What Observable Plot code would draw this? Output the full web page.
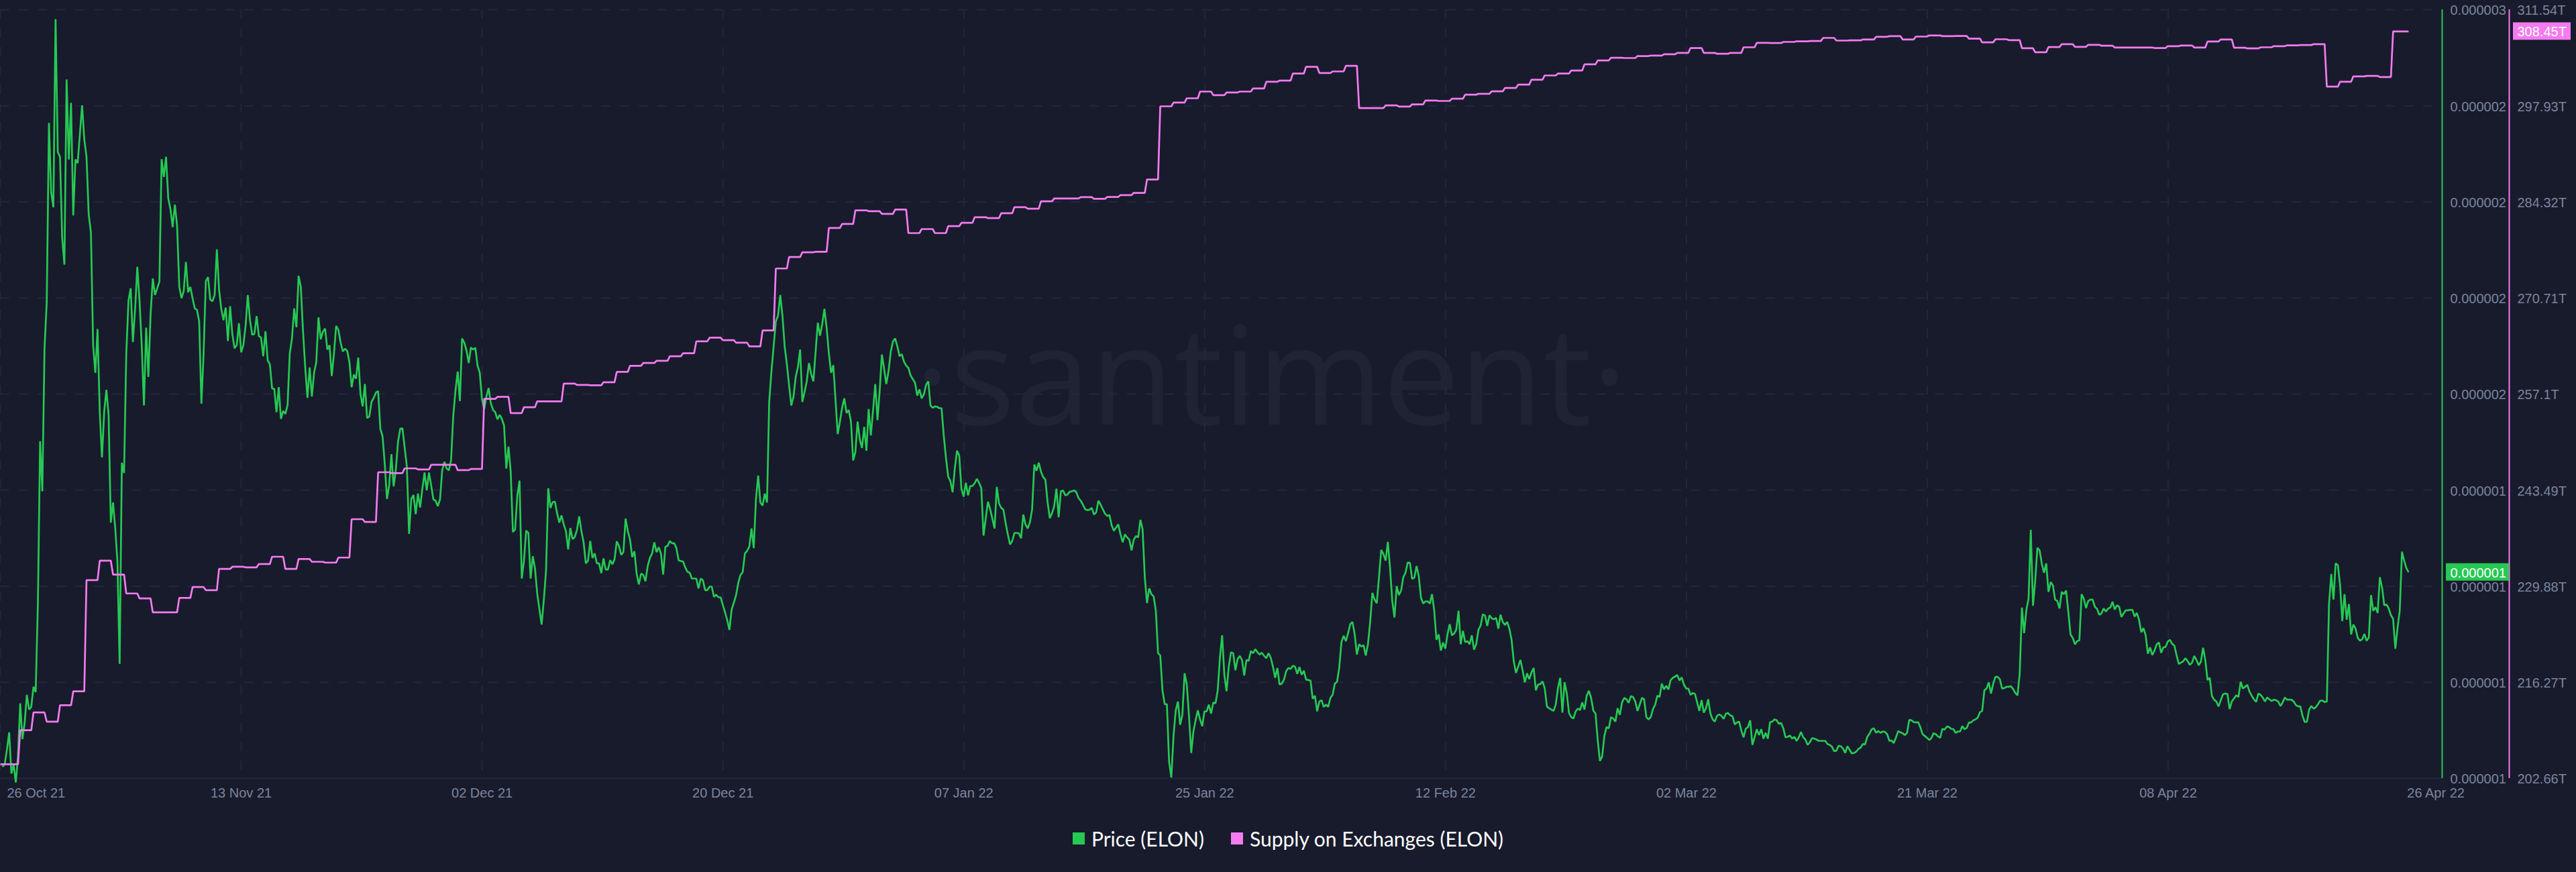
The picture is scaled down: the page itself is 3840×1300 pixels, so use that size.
<!DOCTYPE html>
<html>
<head>
<meta charset="utf-8">
<script src="https://cdn.jsdelivr.net/npm/d3@7"></script>
<script src="https://cdn.jsdelivr.net/npm/@observablehq/plot@0.6"></script>
<style>
  html, body { margin: 0; padding: 0; background: #181b2c; }
  #legend { display: flex; justify-content: center; align-items: center; gap: 40px; height: 100px;
    font-family: "Lato", sans-serif; font-size: 30px; color: #ffffff; }
  #legend span.item { display: flex; align-items: center; gap: 10px; }
  #legend i { display: block; width: 18px; height: 18px; }
</style>
</head>
<body>
<div id="chart"></div>
<div id="legend"></div>
<script>
// Price in billionths of a unit, one reading every four hours from 26 Oct 21.
const priceNano = [
826,832,865,903,811,831,791,850,968,888,
924,987,954,960,1005,993,1192,1554,1442,1762,
1865,2266,2111,2077,2498,2201,2190,2008,1949,2363,
2184,2311,2059,2184,2176,2241,2305,2229,2190,2061,
2021,1769,1707,1805,1619,1518,1619,1669,1613,1372,
1417,1360,1285,1056,1506,1483,1750,1868,1896,1776,
1850,1944,1868,1769,1634,1808,1698,1837,1918,1881,
1896,1911,2185,2145,2190,2097,2073,2033,2083,2036,
1899,1874,1890,1955,1887,1899,1874,1851,1848,1822,
1638,1750,1912,1921,1871,1867,1881,1983,1893,1850,
1825,1853,1778,1856,1794,1762,1769,1818,1753,1769,
1812,1881,1825,1792,1794,1834,1789,1786,1744,1800,
1735,1726,1672,1671,1619,1675,1604,1622,1615,1635,
1750,1784,1851,1809,1924,1899,1800,1719,1651,1719,
1654,1707,1731,1831,1782,1799,1806,1759,1769,1700,
1750,1812,1803,1775,1755,1761,1756,1731,1675,1703,
1694,1741,1660,1632,1682,1606,1609,1642,1651,1663,
1666,1582,1565,1503,1425,1456,1525,1453,1490,1553,
1582,1583,1540,1497,1347,1425,1434,1391,1437,1406,
1447,1484,1444,1484,1455,1424,1421,1409,1424,1489,
1508,1493,1489,1511,1611,1667,1710,1644,1784,1774,
1757,1729,1764,1759,1763,1723,1707,1648,1626,1654,
1673,1639,1624,1619,1603,1613,1604,1589,1493,1542,
1486,1351,1357,1433,1466,1247,1287,1354,1349,1247,
1297,1269,1213,1178,1144,1200,1266,1449,1405,1418,
1419,1393,1372,1388,1368,1353,1312,1360,1335,1340,
1356,1386,1353,1328,1281,1287,1331,1293,1303,1281,
1281,1259,1292,1267,1267,1288,1279,1290,1330,1320,
1300,1306,1381,1353,1334,1295,1308,1258,1234,1258,
1255,1241,1275,1293,1303,1328,1306,1317,1303,1256,
1318,1320,1331,1326,1326,1315,1288,1286,1285,1272,
1262,1260,1247,1247,1247,1225,1247,1243,1221,1221,
1229,1229,1206,1211,1205,1205,1188,1172,1154,1132,
1178,1193,1210,1237,1255,1261,1303,1309,1318,1359,
1315,1424,1477,1417,1410,1437,1417,1642,1710,1766,
1822,1835,1881,1835,1766,1726,1679,1634,1654,1698,
1720,1759,1642,1664,1688,1729,1704,1688,1754,1819,
1790,1816,1850,1807,1751,1707,1724,1648,1570,1598,
1629,1650,1617,1624,1598,1511,1530,1598,
1558,1539,1586,1533,1626,1567,1623,1682,1601,1667,
1748,1716,1682,1710,1754,1777,1784,1766,1744,1749,
1732,1723,1718,1701,1693,1685,1656,1670,1650,1659,
1680,1688,1634,1629,1632,1631,1628,1628,1567,1517,
1475,1465,1440,1493,1533,1522,1448,1430,1461,1433,
1454,1454,1460,1470,1461,1449,1343,1381,1419,1402,
1381,1359,1452,1415,1405,1401,1371,1346,1323,1331,
1349,1349,1348,1337,1390,1368,1359,1373,1402,1502,
1488,1506,1486,1474,1468,1418,1382,1393,1409,1448,
1384,1442,1444,1433,1435,1441,1442,1444,1440,1427,
1421,1412,1402,1400,1401,1405,1390,1395,1421,1412,
1402,1392,1387,1389,1366,1354,1361,1368,1346,1328,
1346,1339,1334,1310,1334,1342,1339,1378,1357,1250,
1192,1225,1212,1207,1175,1080,1075,997,966,966,
837,802,895,952,972,920,942,1035,1010,940,
857,905,930,952,932,917,950,950,965,945,
970,968,997,1070,1120,1032,995,1050,1082,1080,
1042,1067,1074,1065,1030,1065,1063,1085,1080,1089,
1082,1077,1081,1074,1069,1080,1070,1050,1025,1047,
1010,1012,1021,1040,1047,1045,1052,1050,1034,1049,
1032,1041,1021,1020,1019,978,985,950,972,975,
960,965,960,980,987,1012,1016,1047,1105,1119,
1107,1125,1145,1150,1122,1077,1100,1095,1098,1075,
1100,1150,1215,1200,1192,1250,1311,1302,1287,1329,
1270,1197,1160,1230,1210,1220,1250,1260,1283,1282,
1246,1249,1275,1252,1204,1191,1196,1196,1191,1212,
1175,1110,1122,1086,1104,1090,1122,1145,1120,1124,
1133,1175,1100,1130,1105,1107,1100,1120,1088,1100,
1132,1142,1167,1164,1141,1165,1158,1156,1159,1135,
1166,1150,1143,1150,1135,1110,1062,1036,1050,1065,
1042,1015,1035,1022,1037,1047,997,1010,1011,1017,
1002,961,957,954,951,965,1002,1025,947,1015,
990,946,937,934,950,956,953,970,954,985,
996,980,952,945,885,839,849,895,915,912,
937,934,927,957,942,970,980,977,969,984,
982,972,951,965,980,977,937,932,937,955,
965,985,982,1012,999,1007,999,1020,1025,1028,
1031,1019,1026,1010,1001,1001,987,991,989,970,
951,975,947,957,977,945,932,927,940,943,
940,933,945,946,941,939,921,925,927,907,
892,911,915,930,875,892,910,897,910,889,
902,889,926,927,932,930,922,924,912,892,
893,896,889,893,884,892,904,892,887,875,
881,890,889,887,884,884,884,884,877,875,
871,861,862,873,872,867,857,872,864,856,
857,860,866,869,877,876,893,900,910,912,
902,906,902,905,904,899,884,885,879,892,
906,903,901,897,902,931,930,926,925,926,
915,899,895,891,886,890,901,899,894,891,
911,909,916,915,911,910,902,905,905,917,
910,913,925,925,930,932,936,948,951,997,
1001,1015,990,1012,1027,1027,1022,1001,1002,1005,
1005,1006,1000,991,986,1035,1182,1125,1177,1202,
1356,1186,1242,1316,1310,1280,1260,1281,1217,1239,
1232,1200,1197,1180,1217,1212,1220,1172,1122,1114,
1100,1107,1109,1212,1202,1181,1197,1200,1200,1184,
1179,1166,1169,1180,1173,1180,1182,1195,1178,1187,
1184,1161,1169,1176,1176,1177,1177,1162,1170,1155,
1127,1136,1120,1079,1093,1076,1086,1100,1104,1081,
1093,1094,1106,1110,1101,1097,1075,1056,1059,1062,
1069,1062,1054,1059,1074,1065,1053,1061,1092,1064,
1020,1025,984,976,972,961,975,988,990,989,
955,972,979,986,982,1016,1001,1005,1009,994,
985,977,971,990,987,981,972,981,977,973,
976,975,972,962,970,981,976,976,976,972,
964,961,961,940,926,927,954,962,956,959,
966,974,974,971,972,1190,1257,1200,1281,1277,
1232,1152,1212,1155,1190,1122,1144,1135,1114,1108,
1111,1123,1108,1115,1210,1175,1183,1170,1250,1227,
1187,1189,1180,1165,1157,1090,1137,1175,1307,1287,1270,1261
];

// Supply on exchanges, in trillions, one reading per day.
const supplyDaily = [
204.67,209.48,212.0,210.7,213.02,214.99,230.75,233.51,231.54,228.86,
228.15,226.18,226.18,228.23,229.77,229.33,232.33,232.64,232.56,233.03,
234.06,232.33,233.74,233.35,233.23,233.94,239.38,238.98,246.03,245.91,
246.58,246.43,247.08,247.08,246.33,246.49,256.42,256.7,254.41,255.24,
256.07,256.07,258.59,258.39,258.35,258.78,260.24,261.11,261.5,261.82,
262.45,262.88,264.57,265.09,264.73,264.38,263.86,266.11,274.89,276.51,
277.18,277.26,280.63,281.2,283.13,283.01,282.63,283.23,279.9,280.47,
279.9,280.88,281.36,282.15,282.02,282.72,283.58,283.35,284.4,284.81,
284.81,285.0,284.75,285.03,285.29,285.6,287.5,297.86,298.4,299.0,
299.95,299.44,299.82,299.95,300.39,301.34,301.5,302.51,303.46,302.58,
302.8,303.59,297.61,297.61,297.99,297.83,298.14,298.68,298.62,298.94,
299.51,299.63,299.98,300.46,300.93,301.63,302.23,302.51,302.93,303.81,
304.35,304.73,304.7,304.98,305.05,305.24,305.43,306.12,305.43,305.3,
305.43,306.22,306.85,306.82,306.98,307.07,307.11,307.55,307.17,307.2,
307.33,307.71,307.8,307.33,307.74,307.9,307.8,307.83,307.45,306.92,
307.36,307.23,306.09,305.52,306.25,306.66,306.28,306.57,306.44,306.19,
306.19,306.19,306.12,306.38,306.47,306.19,307.04,307.33,306.16,306.06,
306.22,306.38,306.5,306.54,306.66,300.65,301.34,302.1,302.17,302.01,
308.47
];

const priceDomainNano = [800, 2519];
const supplyDomain = [202.66, 311.54];
const priceTickLabels = ["0.000001","0.000001","0.000001","0.000001","0.000002","0.000002","0.000002","0.000002","0.000003"];
const supplyTickLabels = ["202.66T","216.27T","229.88T","243.49T","257.1T","270.71T","284.32T","297.93T","311.54T"];
const dateLabels = ["26 Oct 21","13 Nov 21","02 Dec 21","20 Dec 21","07 Jan 22","25 Jan 22","12 Feb 22","02 Mar 22","21 Mar 22","08 Apr 22","26 Apr 22"];
const dateTickStepDays = 18.17;
const xEndDays = 184.2;
const lastPriceLabel = "0.000001";
const lastSupplyLabel = "308.45T";

const green = "#26c953", pink = "#f47bf0", grid = "#23273a", tickInk = "#7a859e";
const hoursStep = 1 / 6;

const priceRows = priceNano.map((v, i) => ({t: (i + 1) * hoursStep, v}));
const lastT = priceRows[priceRows.length - 1].t;

const supplyToPrice = d3.scaleLinear(supplyDomain, priceDomainNano);
const supplyRows = [{t: 0, v: supplyToPrice(supplyDaily[0])}];
supplyDaily.forEach((s, k) => {
  supplyRows.push({t: k + 3 * hoursStep, v: supplyToPrice(s)});
  supplyRows.push({t: k === supplyDaily.length - 1 ? lastT : k + 8 * hoursStep, v: supplyToPrice(s)});
});

const yTicks = priceTickLabels.map((_, i) => priceDomainNano[0] + i * (priceDomainNano[1] - priceDomainNano[0]) / (priceTickLabels.length - 1));
const xTicks = dateLabels.map((_, i) => i * dateTickStepDays);
const dateRows = dateLabels.map((label, i) => ({t: xTicks[i], label}));

const lastPrice = priceNano[priceNano.length - 1];
const lastSupply = supplyToPrice(supplyDaily[supplyDaily.length - 1]);

const chart = Plot.plot({
  width: 3840,
  height: 1200,
  marginLeft: 0,
  marginRight: 200,
  marginTop: 14,
  marginBottom: 40,
  x: {domain: [0, xEndDays], axis: null},
  y: {domain: priceDomainNano, axis: null},
  style: {background: "#181b2c", fontFamily: "'Liberation Sans', sans-serif"},
  marks: [
    Plot.text(["·santiment·"], {frameAnchor: "middle", dx: 74, dy: -19, fontSize: 203, fontFamily: "'Open Sans', sans-serif", fontWeight: 400, fill: "#1f2435"}),
    Plot.ruleY(yTicks.slice(1), {stroke: grid, strokeWidth: 2, strokeDasharray: "14 14"}),
    Plot.ruleX(xTicks.slice(0, -1), {stroke: grid, strokeWidth: 2, strokeDasharray: "14 14", y1: priceDomainNano[1], y2: priceDomainNano[0]}),
    Plot.ruleY([priceDomainNano[0]], {stroke: grid, strokeWidth: 2}),
    Plot.line(priceRows, {x: "t", y: "v", stroke: green, strokeWidth: 2.7, strokeLinejoin: "miter", strokeLinecap: "butt"}),
    Plot.line(supplyRows, {x: "t", y: "v", stroke: pink, strokeWidth: 2.7, strokeLinejoin: "miter", strokeLinecap: "butt"}),
    Plot.ruleX([xEndDays], {stroke: green, strokeWidth: 2}),
    Plot.ruleX([xEndDays], {stroke: pink, strokeWidth: 2, dx: 100}),
    Plot.axisY({anchor: "right", ticks: yTicks, tickFormat: (d, i) => priceTickLabels[i], tickSize: 0, tickPadding: 12, fontSize: 20, color: tickInk, label: null, dy: 1.5}),
    Plot.axisY({anchor: "right", ticks: yTicks, tickFormat: (d, i) => supplyTickLabels[i], tickSize: 0, tickPadding: 12, fontSize: 20, color: tickInk, label: null, dx: 100, dy: 1.5}),
    Plot.text(dateRows.slice(1, -1), {x: "t", text: "label", frameAnchor: "bottom", lineAnchor: "top", dy: 14, fontSize: 20, fill: tickInk}),
    Plot.text(dateRows.slice(0, 1), {x: "t", text: "label", frameAnchor: "bottom", lineAnchor: "top", dy: 14, dx: 10, textAnchor: "start", fontSize: 20, fill: tickInk}),
    Plot.text(dateRows.slice(-1), {x: "t", text: "label", frameAnchor: "bottom", lineAnchor: "top", dy: 14, dx: 40, fontSize: 20, fill: tickInk}),
    Plot.rect([lastPrice], {x1: () => xEndDays, x2: () => xEndDays, y1: d => d, y2: d => d, fill: green, insetLeft: 6, insetRight: -100, insetTop: -13, insetBottom: -13}),
    Plot.text([lastPriceLabel], {x: () => xEndDays, y: () => lastPrice, text: d => d, dx: 12, textAnchor: "start", fontSize: 20, fill: "#ffffff", dy: 1}),
    Plot.rect([lastSupply], {x1: () => xEndDays, x2: () => xEndDays, y1: d => d, y2: d => d, fill: pink, insetLeft: 106, insetRight: -192, insetTop: -13, insetBottom: -13}),
    Plot.text([lastSupplyLabel], {x: () => xEndDays, y: () => lastSupply, text: d => d, dx: 112, textAnchor: "start", fontSize: 20, fill: "#ffffff", dy: 1})
  ]
});
document.getElementById("chart").appendChild(chart);

const legendItems = [["Price (ELON)", green], ["Supply on Exchanges (ELON)", pink]];
document.getElementById("legend").innerHTML = legendItems
  .map(([name, c]) => `<span class="item"><i style="background:${c}"></i>${name}</span>`).join("");
</script>
</body>
</html>
